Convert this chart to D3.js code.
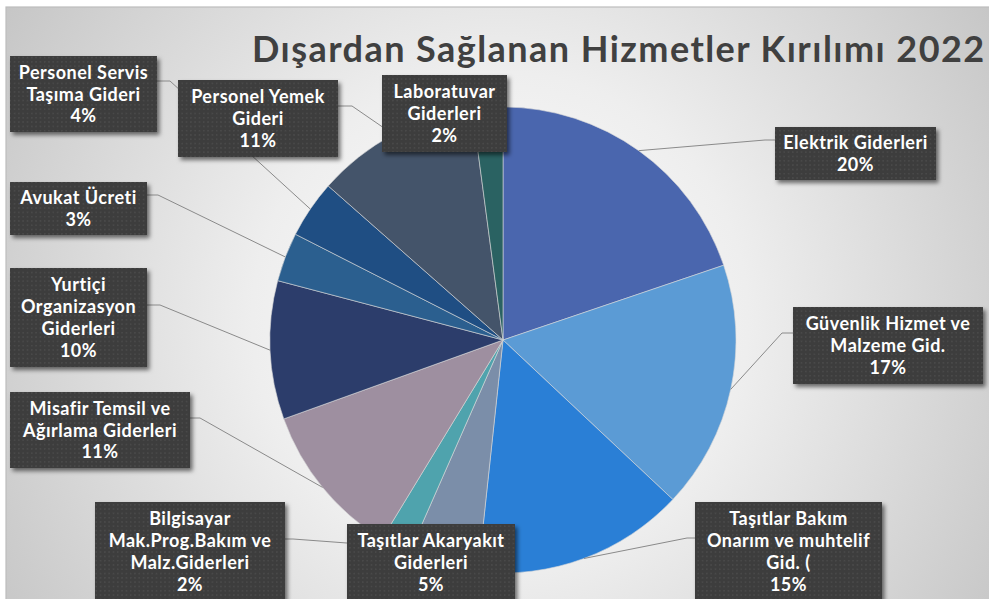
<!DOCTYPE html>
<html>
<head>
<meta charset="utf-8">
<script src="https://cdn.jsdelivr.net/npm/d3@7"></script>
<style>
  html, body { margin: 0; padding: 0; background: #fff; }
  svg { display: block; }
</style>
</head>
<body>
<svg id="chart" width="989" height="599"></svg>
<script>
// slices, clockwise from 12 o'clock (values in %)
var categories = [
  "Elektrik Giderleri",
  "Güvenlik Hizmet ve\nMalzeme Gid.",
  "Taşıtlar Bakım\nOnarım ve muhtelif\nGid. (",
  "Taşıtlar Akaryakıt\nGiderleri",
  "Bilgisayar\nMak.Prog.Bakım ve\nMalz.Giderleri",
  "Misafir Temsil ve\nAğırlama Giderleri",
  "Yurtiçi\nOrganizasyon\nGiderleri",
  "Avukat Ücreti",
  "Personel Servis\nTaşıma Gideri",
  "Personel Yemek\nGideri",
  "Laboratuvar\nGiderleri"
];
var shares = [19.8, 17.2, 14.7, 4.9, 2.1, 10.8, 9.6, 3.4, 4.0, 11.4, 2.1];
var sliceColors = ["#4a66ae", "#5b9bd5", "#2a7fd6", "#7b8ea9", "#4fa3ad", "#9e8fa0",
                   "#2c3d6b", "#2b5f8f", "#1f4e83", "#44546a", "#2a6262"];
var title = "Dışardan Sağlanan Hizmetler Kırılımı 2022";

// label layout: box [x, y, w, h], where the leader meets the box, elbow x
var labelLayout = [
  { box: [775, 127, 161, 53], anchor: [775, 140], elbow: 765 },
  { box: [793, 307, 190, 77], anchor: [793, 333], elbow: 782 },
  { box: [695, 502, 187, 99], anchor: [695, 538], elbow: 687 },
  { box: [347, 524, 168, 77], anchor: null },
  { box: [95, 502, 190, 99], anchor: [285, 539], elbow: 293 },
  { box: [10, 392, 180, 76], anchor: [190, 418], elbow: 200 },
  { box: [10, 268, 137, 99], anchor: [147, 305], elbow: 160 },
  { box: [10, 182, 137, 53], anchor: [147, 195], elbow: 158 },
  { box: [10, 56, 147, 76], anchor: [157, 81], elbow: 170 },
  { box: [178, 80, 160, 77], anchor: [338, 106], elbow: 352 },
  { box: [382, 75, 125, 77], anchor: null }
];

var W = 989, H = 599;
var cx = 503, cy = 340, R = 233;

var svg = d3.select("#chart");
var defs = svg.append("defs");

// chart background: radial gray gradient
var bg = defs.append("radialGradient").attr("id", "bg")
  .attr("gradientUnits", "userSpaceOnUse")
  .attr("cx", 500).attr("cy", 320).attr("r", 620);
bg.append("stop").attr("offset", 0).attr("stop-color", "#ffffff");
bg.append("stop").attr("offset", 0.4).attr("stop-color", "#eeeeee");
bg.append("stop").attr("offset", 1).attr("stop-color", "#c2c2c2");

// dotted texture for label boxes
var pat = defs.append("pattern").attr("id", "dots")
  .attr("patternUnits", "userSpaceOnUse").attr("width", 4.3).attr("height", 4.3);
pat.append("rect").attr("width", 4.3).attr("height", 4.3).attr("fill", "#3d3d3d");
pat.append("rect").attr("x", 1).attr("y", 1).attr("width", 1.3).attr("height", 1.3).attr("fill", "#505050");

var sh = defs.append("filter").attr("id", "shadow")
  .attr("x", "-20%").attr("y", "-20%").attr("width", "150%").attr("height", "150%");
sh.append("feDropShadow").attr("dx", 2.5).attr("dy", 3).attr("stdDeviation", 2)
  .attr("flood-color", "#000").attr("flood-opacity", 0.55);

svg.append("rect").attr("x", 6).attr("y", 7).attr("width", W).attr("height", H)
  .attr("fill", "url(#bg)").attr("stroke", "#bdbdbd").attr("stroke-width", 1.2);

// title
svg.append("text")
  .attr("x", 252).attr("y", 62)
  .attr("font-family", "Lato, 'Open Sans', sans-serif")
  .attr("font-weight", 700).attr("font-size", 36)
  .attr("letter-spacing", 1.45)
  .attr("fill", "#404040")
  .text(title);

var data = categories.map(function (c, i) {
  return { name: c, value: shares[i], color: sliceColors[i], layout: labelLayout[i] };
});

var pie = d3.pie().sort(null).value(function (d) { return d.value; });
var arcs = pie(data);
var arc = d3.arc().innerRadius(0).outerRadius(R);

var g = svg.append("g").attr("transform", "translate(" + cx + "," + cy + ")");
g.selectAll("path.slice")
  .data(arcs)
  .enter().append("path")
  .attr("class", "slice")
  .attr("d", arc)
  .attr("fill", function (d) { return d.data.color; })
  .attr("stroke", "#d8d8d8")
  .attr("stroke-width", 0.6);

// leader lines: arc midpoint on the rim -> elbow -> box edge
var rim = d3.arc().innerRadius(R).outerRadius(R);
svg.append("g").selectAll("path.leader")
  .data(arcs.filter(function (d) { return d.data.layout.anchor; }))
  .enter().append("path")
  .attr("class", "leader")
  .attr("fill", "none")
  .attr("stroke", "#8a8a8a")
  .attr("stroke-width", 1)
  .attr("d", function (d) {
    var p = rim.centroid(d);
    var L = d.data.layout;
    return d3.line()([[p[0] + cx, p[1] + cy], [L.elbow, L.anchor[1]], L.anchor]);
  });

// label boxes
var pct = d3.format(".0%");
var labels = svg.append("g").selectAll("g.label")
  .data(arcs)
  .enter().append("g")
  .attr("class", "label");

labels.append("rect")
  .attr("x", function (d) { return d.data.layout.box[0]; })
  .attr("y", function (d) { return d.data.layout.box[1]; })
  .attr("width", function (d) { return d.data.layout.box[2]; })
  .attr("height", function (d) { return d.data.layout.box[3]; })
  .attr("fill", "url(#dots)")
  .attr("filter", "url(#shadow)");

var lineH = 21.8;
labels.each(function (d) {
  var b = d.data.layout.box;
  var lines = d.data.name.split("\n").concat([pct(d.data.value / 100)]);
  var mid = b[1] + b[3] / 2;
  var t = d3.select(this).append("text")
    .attr("text-anchor", "middle")
    .attr("font-family", "Lato, 'Open Sans', sans-serif")
    .attr("font-weight", 700)
    .attr("font-size", 18)
    .attr("letter-spacing", 0.5)
    .attr("fill", "#ffffff");
  lines.forEach(function (s, i) {
    t.append("tspan")
      .attr("x", b[0] + b[2] / 2)
      .attr("y", mid + (i - (lines.length - 1) / 2) * lineH + 6.5)
      .text(s);
  });
});
</script>
</body>
</html>
